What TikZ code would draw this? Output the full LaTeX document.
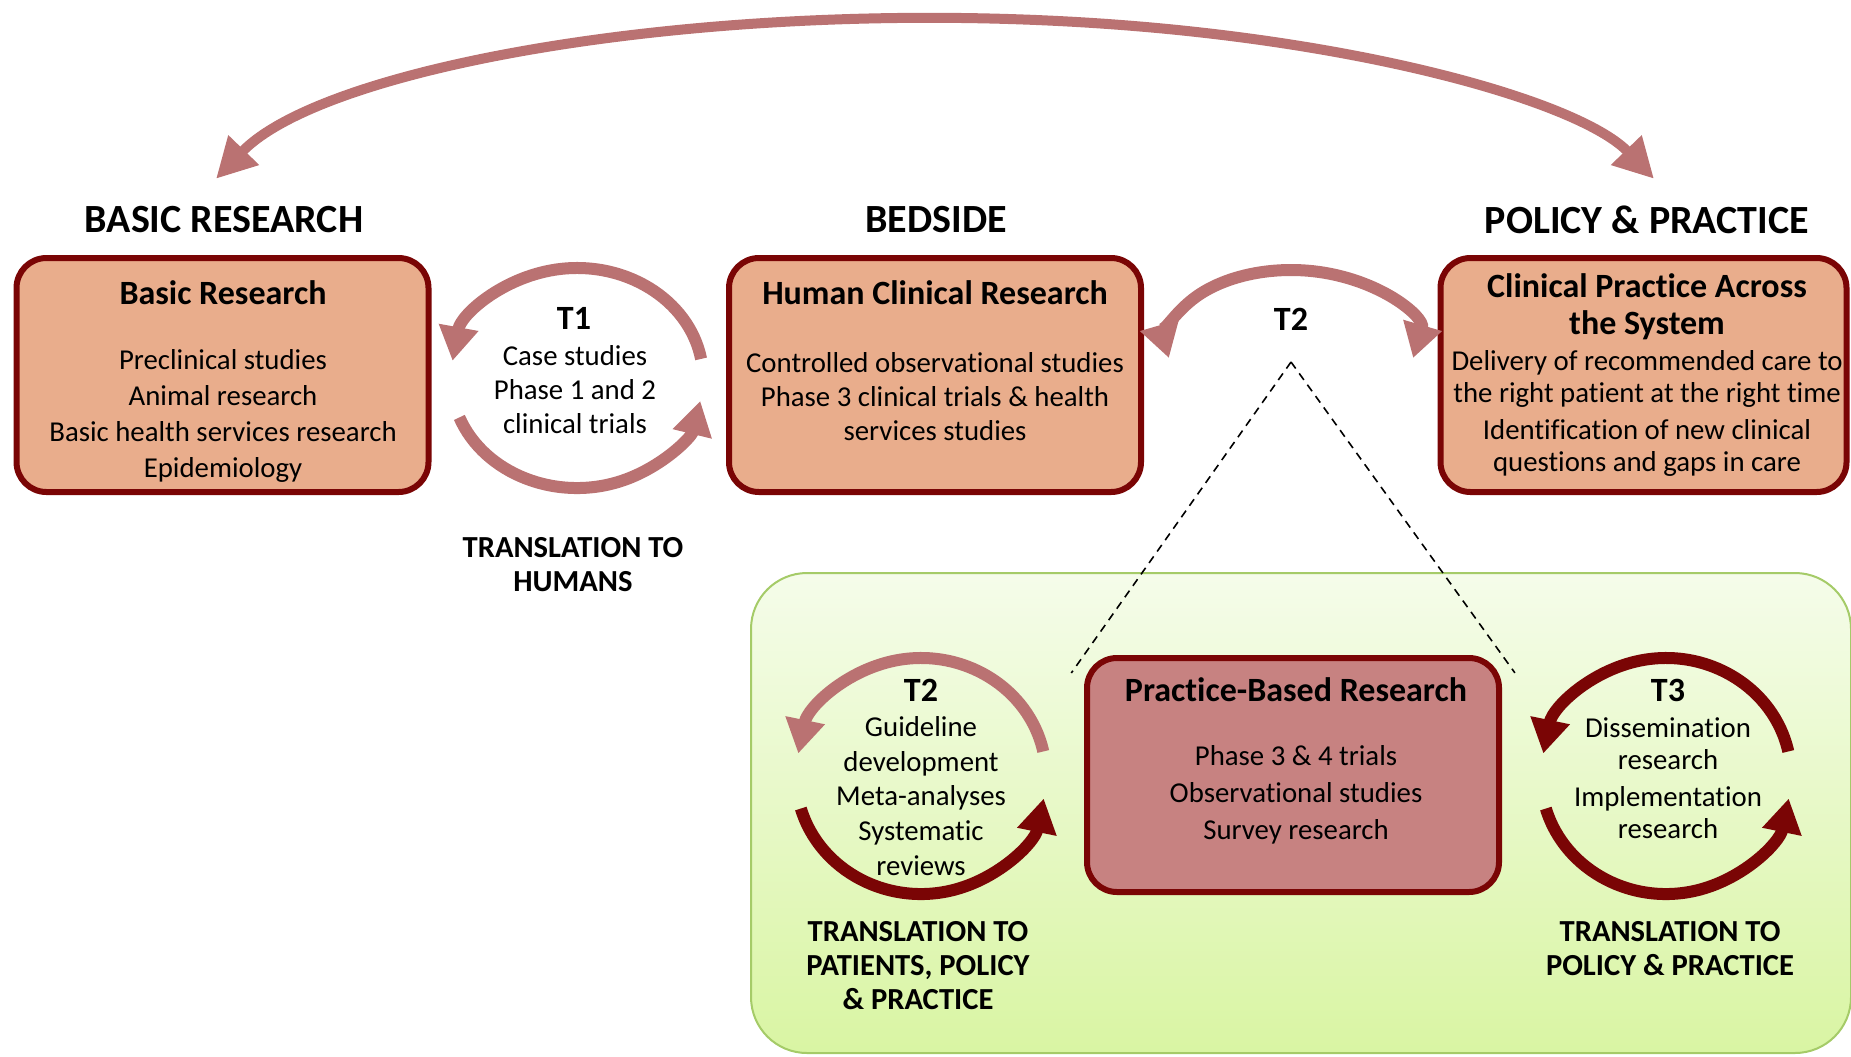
\documentclass[tikz,border=0pt]{standalone}
\usepackage{fontspec}
\setmainfont[Ligatures=NoCommon]{Carlito}
\usetikzlibrary{arrows.meta,calc}
\definecolor{boxfill}{HTML}{E9AD8C}
\definecolor{boxline}{HTML}{7A0505}
\definecolor{rosearc}{HTML}{BA7272}
\definecolor{pbrfill}{HTML}{C78281}
\definecolor{darkarc}{HTML}{7A0505}
\definecolor{paneltop}{HTML}{F5FCEA}
\definecolor{panelbot}{HTML}{D9F5A3}
\definecolor{panelline}{HTML}{A5CB68}
\tikzset{
	resbox/.style={draw=boxline, line width=3pt, fill=boxfill, rounded corners=15pt,
		minimum width=206pt, minimum height=117pt, inner sep=0pt},
	pbrbox/.style={resbox, fill=pbrfill},
	panel/.style={draw=panelline, line width=1pt, top color=paneltop, bottom color=panelbot,
		rounded corners=28pt, minimum width=550pt, minimum height=240pt, inner sep=0pt},
	headlbl/.style={font=\fontsize{20}{22}\selectfont\bfseries, inner sep=0pt},
	translbl/.style={font=\fontsize{15.3}{17}\selectfont\bfseries, align=center, inner sep=0pt},
	titletxt/.style={font=\fontsize{17}{18.5}\selectfont\bfseries, align=center, inner sep=0pt},
	bodytxt/.style={font=\fontsize{14.4}{18}\selectfont, align=center, inner sep=0pt},
	lightarc/.style={draw=rosearc, line width=6pt, arrows={-Triangle[width=19pt,length=17pt]}},
	darkarrow/.style={lightarc, draw=darkarc},
	bigarc/.style={draw=rosearc, line width=5pt,
		arrows={Triangle[width=20pt,length=20pt]-Triangle[width=20pt,length=20pt]}},
	dashline/.style={black, line width=0.8pt, dash pattern=on 4pt off 3pt, shorten >=-11pt},
}
\begin{document}
\begin{tikzpicture}[x=0.5pt, y=-0.5pt]
	\useasboundingbox (0,0) rectangle (1851,1056);
	\node[panel] (panel) at (1301,813) {};
	\coordinate (t2tip) at (1291,362);
	\node[pbrbox] (pbr) at (1293,775) {};
	\draw[dashline] (t2tip) -- (pbr.north west);
	\draw[dashline] (t2tip) -- (pbr.north east);
	\node[resbox] (basic) at (222.5,375) {};
	\node[resbox] (human) at (935,375) {};
	\node[resbox, minimum width=203pt] (clinical) at (1643.5,375) {};
	
	\node[headlbl] (basichead) at (224,220) {BASIC RESEARCH};
	\node[headlbl] (bedhead) at (936,220) {BEDSIDE};
	\node[headlbl] (polhead) at (1647,220) {POLICY \& PRACTICE};
	\draw[bigarc] (935,240) ++(-164:748 and 222) arc[start angle=-164, end angle=-16, x radius=748, y radius=222];
	
	\node[titletxt] (basictitle) at (223,293) {Basic Research};
	\node[bodytxt] (basicbody) at (223,415.5) {Preclinical studies\\Animal research\\Basic health services research\\Epidemiology};
	\node[titletxt] (humantitle) at (935,293) {Human Clinical Research};
	\node[bodytxt, font=\fontsize{14.4}{17}\selectfont] (humanbody) at (935,397) {Controlled observational studies\\Phase 3 clinical trials \& health\\services studies};
	\node[titletxt] (clintitle) at (1647,306.5) {Clinical Practice Across\\the System};
	\node[bodytxt, font=\fontsize{14.4}{16}\selectfont] (clinbody) at (1647,413) {Delivery of recommended care to\\the right patient at the right time\\[2.5pt]Identification of new clinical\\questions and gaps in care};
	
	\coordinate (t1c) at (577,378);
	\draw[lightarc] (t1c) ++(-10:126 and 110) arc[start angle=-10, end angle=-171, x radius=126, y radius=110];
	\draw[lightarc] (t1c) ++(159:126 and 110) arc[start angle=159, end angle=12, x radius=126, y radius=110];
	\node[titletxt] (t1lbl) at (574,318) {T1};
	\node[bodytxt, font=\fontsize{14.4}{17}\selectfont] (t1body) at (575,390) {Case studies\\Phase 1 and 2\\clinical trials};
	\node[translbl] (t1trans) at (573,564.5) {TRANSLATION TO\\HUMANS};
	
	\coordinate (t2c) at (1291,345);
	\draw[lightarc, arrows={Triangle[width=19pt,length=17pt]-Triangle[width=19pt,length=17pt]}] (t2c) ++(10:124 and 75) arc[start angle=10, end angle=-190, x radius=124, y radius=75];
	\node[titletxt] (t2lbl) at (1291,319) {T2};
	
	\node[titletxt] (pbrtitle) at (1296,690) {Practice-Based Research};
	\node[bodytxt, font=\fontsize{14.4}{18.5}\selectfont] (pbrbody) at (1296,795) {Phase 3 \& 4 trials\\Observational studies\\Survey research};
	
	\coordinate (t2lc) at (921,776);
	\draw[lightarc] (t2lc) ++(-12:125 and 118) arc[start angle=-12, end angle=-169, x radius=125, y radius=118];
	\draw[darkarrow] (t2lc) ++(164:125 and 118) arc[start angle=164, end angle=11, x radius=125, y radius=118];
	\node[titletxt] (t2llbl) at (921,690) {T2};
	\node[bodytxt, font=\fontsize{14.4}{17.3}\selectfont] (t2lbody) at (921,796) {Guideline\\development\\Meta-analyses\\Systematic\\reviews};
	\node[translbl] (t2ltrans) at (918,966) {TRANSLATION TO\\PATIENTS, POLICY\\\& PRACTICE};
	
	\coordinate (t3c) at (1666,776);
	\draw[darkarrow] (t3c) ++(-12:125 and 118) arc[start angle=-12, end angle=-169, x radius=125, y radius=118];
	\draw[darkarrow] (t3c) ++(164:125 and 118) arc[start angle=164, end angle=11, x radius=125, y radius=118];
	\node[titletxt] (t3lbl) at (1668,690) {T3};
	\node[bodytxt, font=\fontsize{14.4}{16}\selectfont] (t3body) at (1668,778) {Dissemination\\research\\[2.5pt]Implementation\\research};
	\node[translbl] (t3trans) at (1670,948.5) {TRANSLATION TO\\POLICY \& PRACTICE};
\end{tikzpicture}
\end{document}
